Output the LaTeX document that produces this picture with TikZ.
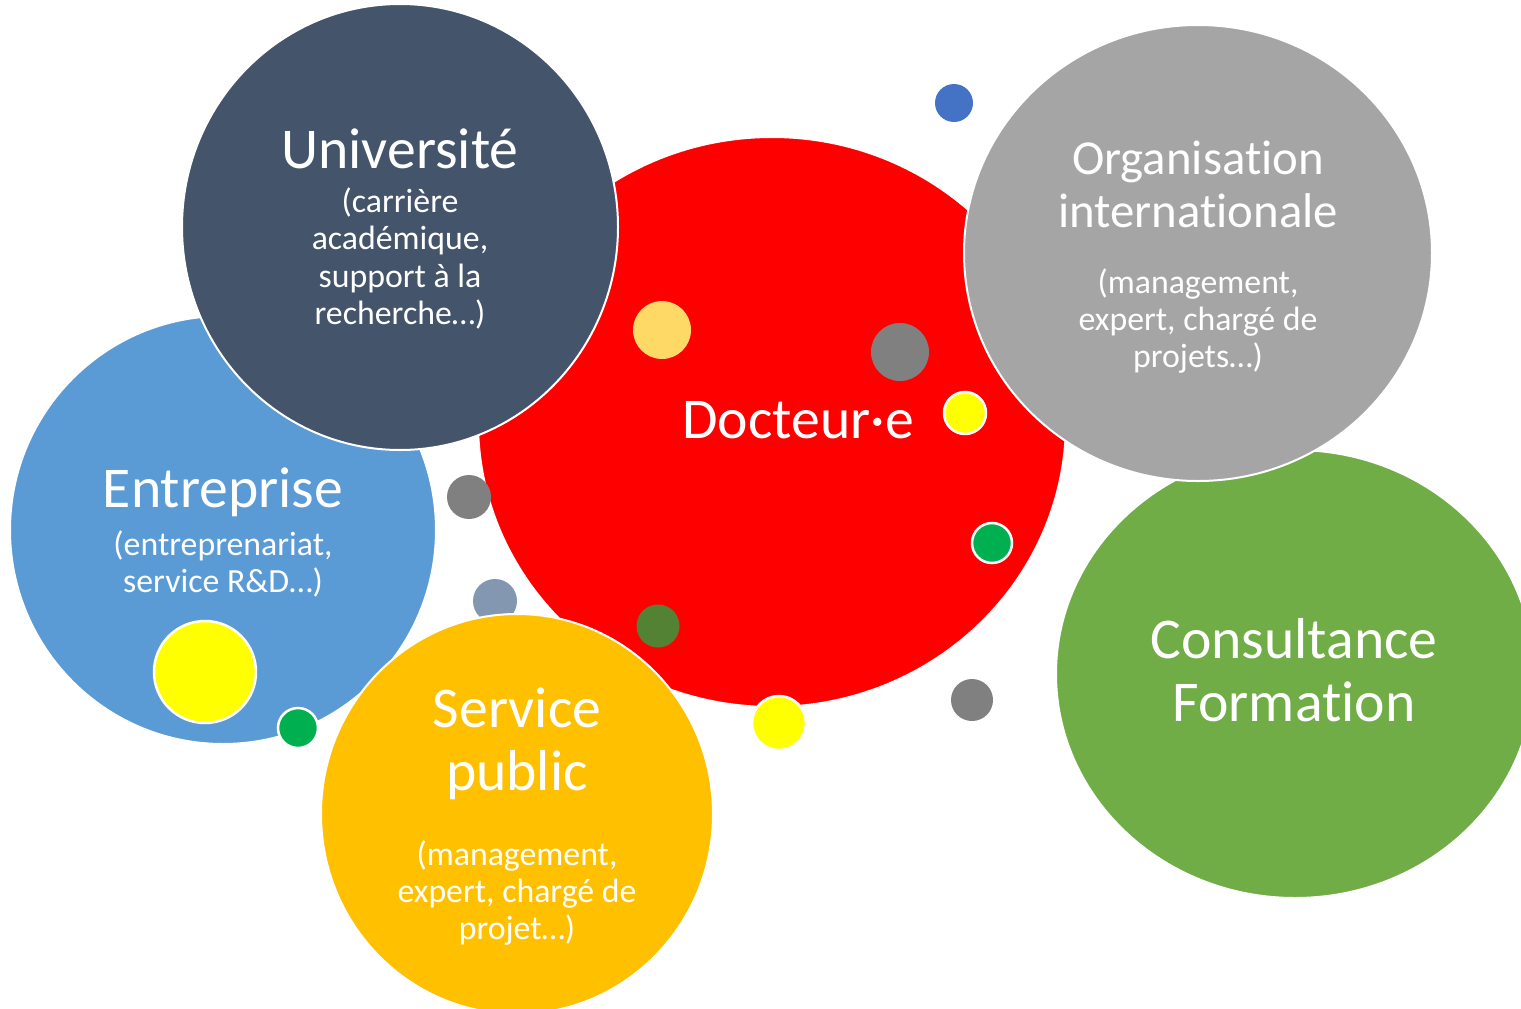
\documentclass[tikz,border=0pt]{standalone}
\usepackage{fontspec}
\setmainfont{Carlito}[Ligatures=NoCommon]
\usetikzlibrary{shapes.geometric}
\definecolor{cRed}{HTML}{FF0000}
\definecolor{cUni}{HTML}{44546A}
\definecolor{cEnt}{HTML}{5B9BD5}
\definecolor{cPub}{HTML}{FFC000}
\definecolor{cOrg}{HTML}{A5A5A5}
\definecolor{cCons}{HTML}{70AD47}
\definecolor{cLYel}{HTML}{FFD966}
\definecolor{cGray}{HTML}{808080}
\definecolor{cBGray}{HTML}{8497B0}
\definecolor{cDGreen}{HTML}{548235}
\definecolor{cYel}{HTML}{FFFF00}
\definecolor{cGreen}{HTML}{00B050}
\definecolor{cBlue}{HTML}{4472C4}
\tikzset{
  bubble/.style={ellipse, inner sep=0pt, draw=white, line width=2pt},
  dot/.style={circle, inner sep=0pt, draw=none},
  wdot/.style={circle, inner sep=0pt, draw=white, line width=2.5pt},
  big/.style={anchor=base, inner sep=0pt, text=white, font=\fontsize{57.7}{63}\selectfont},
  mid/.style={anchor=base, inner sep=0pt, text=white, font=\fontsize{48.8}{53}\selectfont},
  sub/.style={anchor=base, inner sep=0pt, text=white, font=\fontsize{33.8}{37}\selectfont},
}
\begin{document}
\begin{tikzpicture}[x=1pt,y=-1pt]
\useasboundingbox (0,0) rectangle (1521,1009);
\clip (0,0) rectangle (1521,1009);
% big bubbles
\node[bubble, fill=cRed, minimum width=588pt, minimum height=570pt] (doc) at (772,422) {};
\node[bubble, fill=cEnt, minimum width=426pt, minimum height=428pt] (ent) at (223,530) {};
\node[bubble, fill=cUni, minimum width=436pt, minimum height=446pt] (uni) at (400,227) {};
\node[dot, fill=cBGray, minimum size=44pt] (d7) at (495,601) {};
\node[bubble, fill=cPub, minimum width=392pt, minimum height=400pt] (pub) at (517,814) {};
\node[bubble, fill=cCons, minimum width=478pt, minimum height=448pt] (cons) at (1295,674) {};
\node[bubble, fill=cOrg, minimum width=468pt, minimum height=456pt] (org) at (1198,253) {};
% small dots
\node[dot, fill=cBlue, minimum size=38pt] (d1) at (954,103) {};
\node[dot, fill=cLYel, minimum size=58pt] (d2) at (662,330) {};
\node[dot, fill=cGray, minimum size=58pt] (d3) at (900,352) {};
\node[wdot, fill=cYel, minimum size=42pt] (d4) at (965,413) {};
\node[dot, fill=cGray, minimum size=44pt] (d5) at (469,497) {};
\node[wdot, fill=cGreen, minimum size=40pt] (d6) at (992,543) {};
\node[dot, fill=cDGreen, minimum size=43pt] (d8) at (658,626) {};
\node[wdot, fill=cYel, minimum size=102pt] (d9) at (205,672) {};
\node[wdot, fill=cGreen, minimum size=40pt] (d10) at (298,728) {};
\node[wdot, fill=cYel, minimum size=54pt] (d11) at (779,723) {};
\node[dot, fill=cGray, minimum size=42pt] (d12) at (972,700) {};
% texts
\node[big] (tdoc) at (798,438) {Docteur·e};
\node[big] (tuni) at (400,168) {Université};
\node[sub] (tuni1) at (400,212) {(carrière};
\node[sub] (tuni2) at (400,249.5) {académique,};
\node[sub] (tuni3) at (400,287) {support à la};
\node[sub] (tuni4) at (400,324.5) {recherche…)};
\node[big] (tent) at (223,507) {Entreprise};
\node[sub] (tent1) at (223,555) {(entreprenariat,};
\node[sub] (tent2) at (223,592) {service R\&D…)};
\node[mid] (torg1) at (1198,174) {Organisation};
\node[mid] (torg2) at (1198,227) {internationale};
\node[sub] (torg3) at (1198,293) {(management,};
\node[sub] (torg4) at (1198,330) {expert, chargé de};
\node[sub] (torg5) at (1198,367) {projets…)};
\node[big] (tpub1) at (517,727) {Service};
\node[big] (tpub2) at (517,790) {public};
\node[sub] (tpub3) at (517,865) {(management,};
\node[sub] (tpub4) at (517,902) {expert, chargé de};
\node[sub] (tpub5) at (517,939) {projet…)};
\node[big] (tcons1) at (1294,658) {Consultance};
\node[big] (tcons2) at (1294,721) {Formation};
\end{tikzpicture}
\end{document}
